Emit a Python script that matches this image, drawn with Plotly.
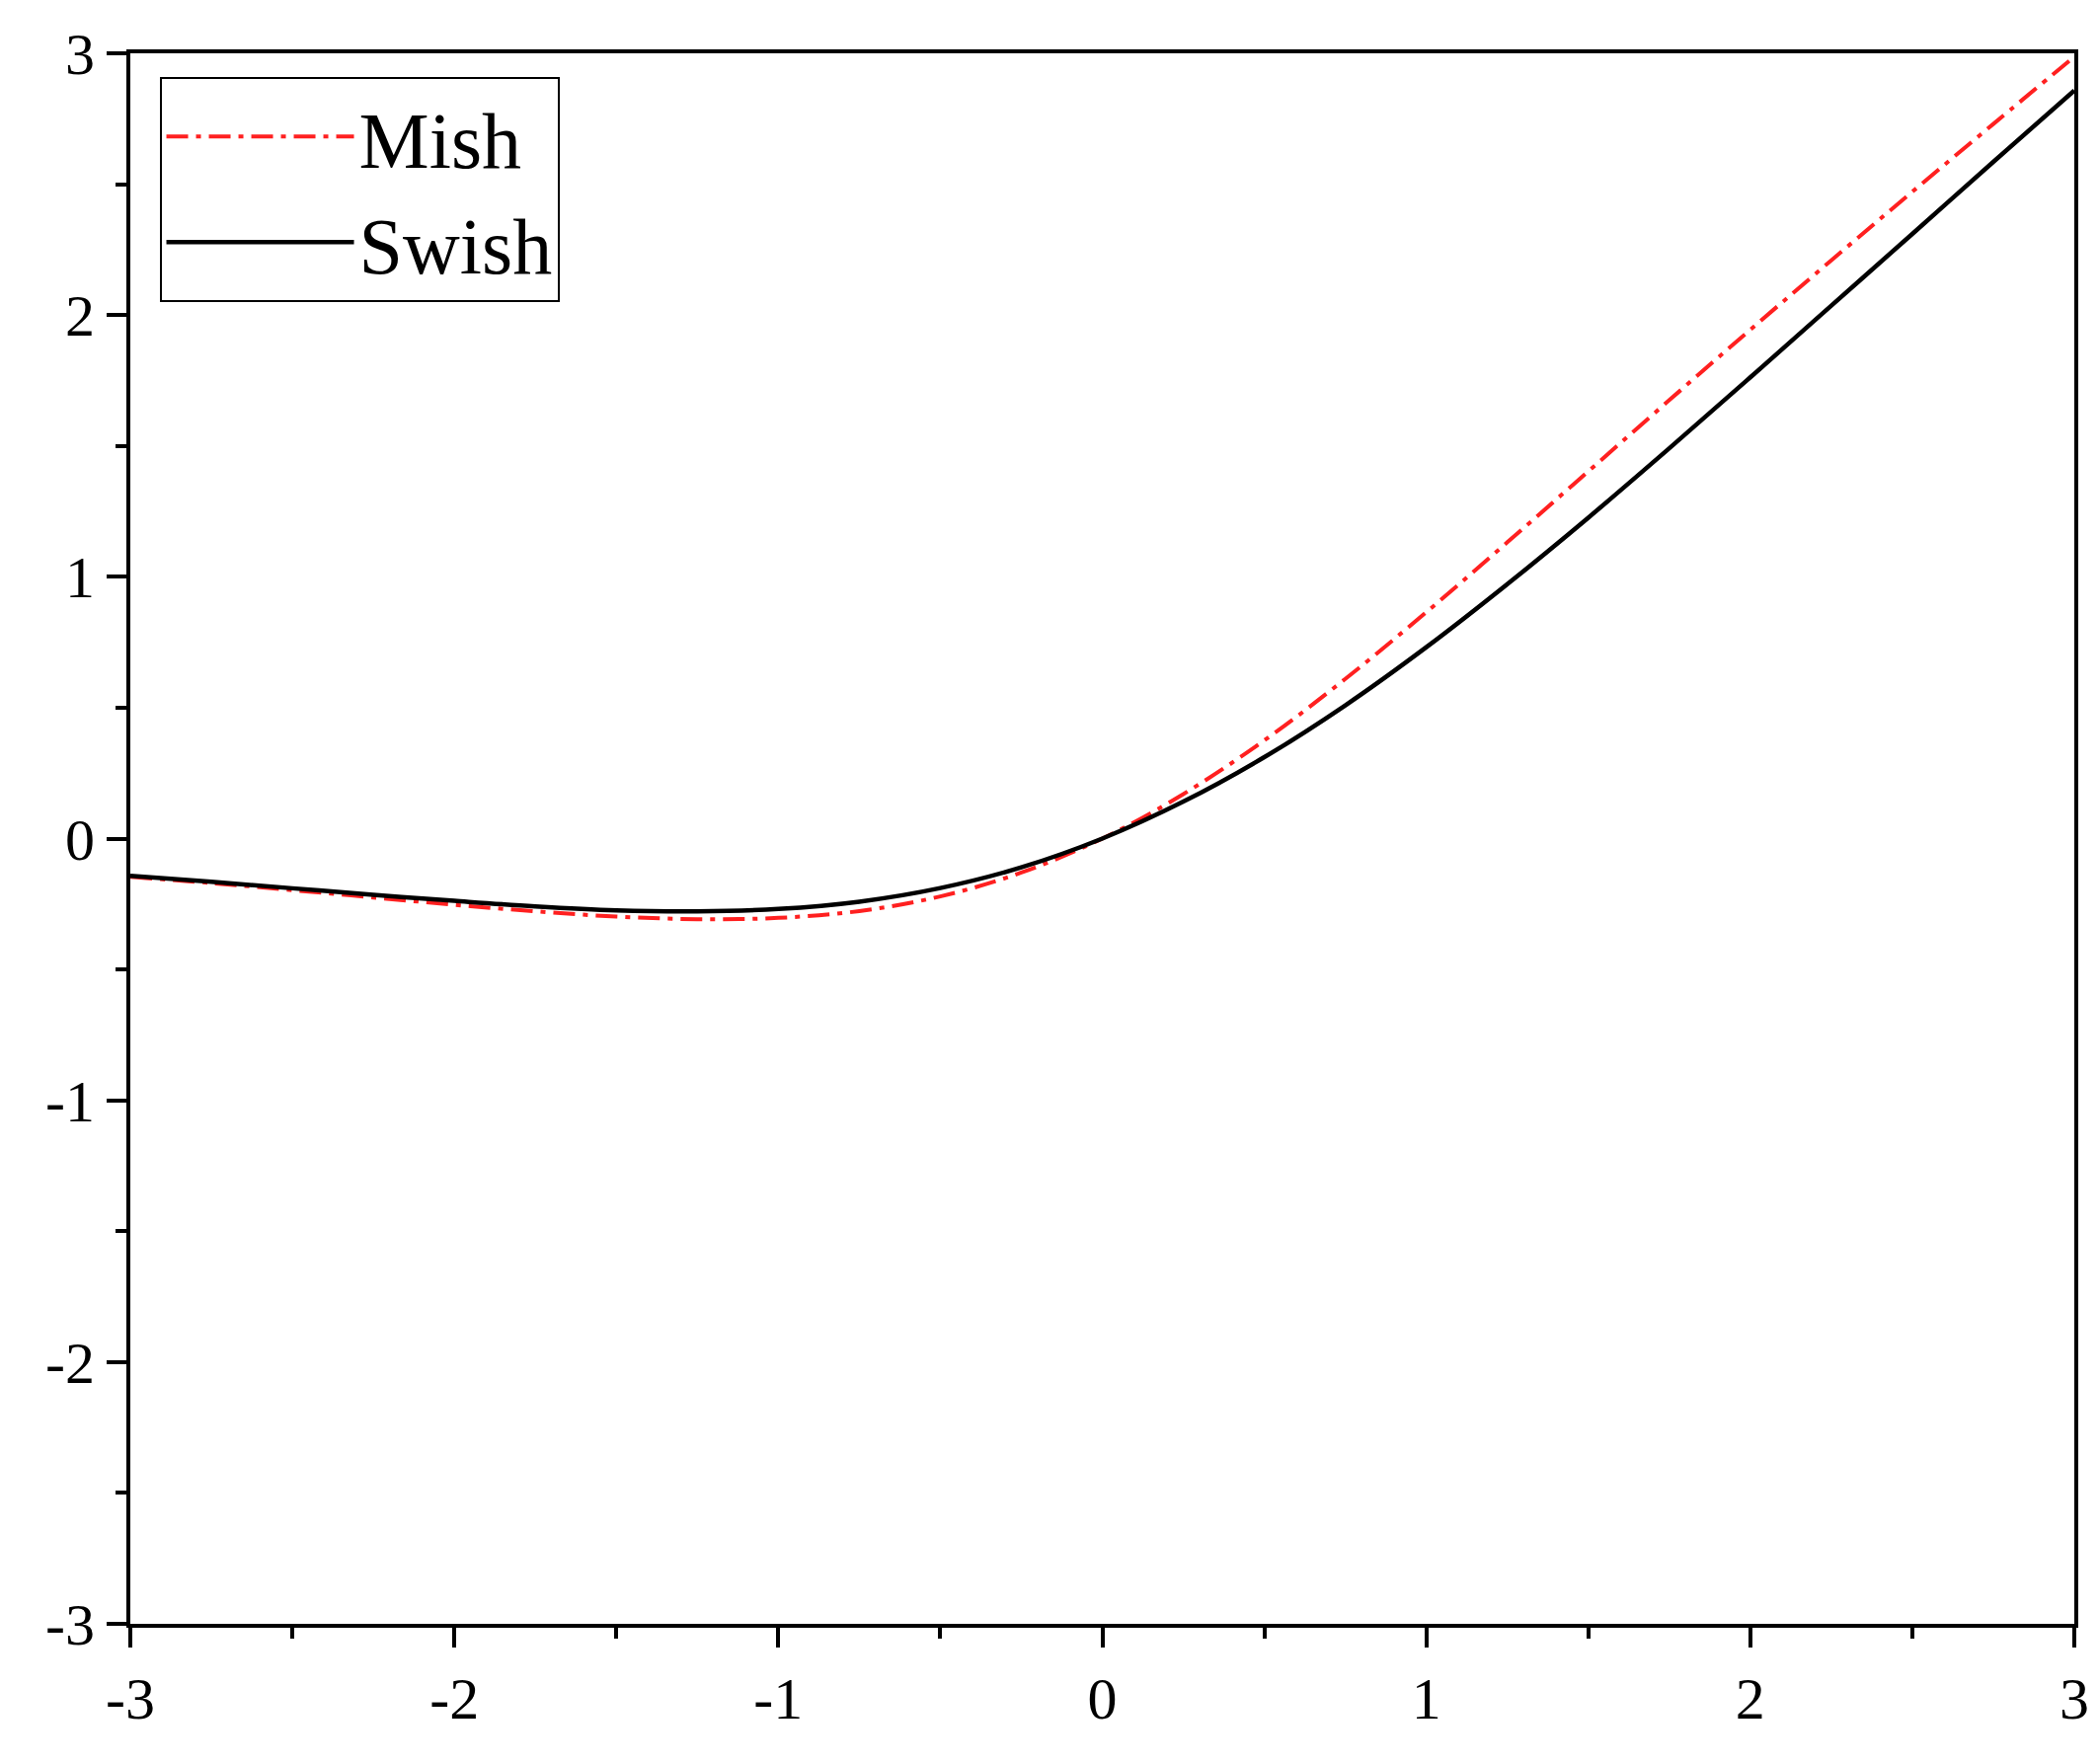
import plotly.graph_objects as go

x_vals = [-3, -2.75, -2.5, -2.25, -2, -1.75, -1.5, -1.25, -1, -0.75, -0.5, -0.25, 0,
          0.25, 0.5, 0.75, 1, 1.25, 1.5, 1.75, 2, 2.25, 2.5, 2.75, 3]
mish = [-0.146, -0.170, -0.197, -0.225, -0.253, -0.278, -0.298, -0.308, -0.303, -0.277,
        -0.221, -0.130, 0.0, 0.170, 0.375, 0.610, 0.865, 1.132, 1.403, 1.675, 1.944,
        2.209, 2.471, 2.730, 2.987]
swish = [-0.142, -0.165, -0.190, -0.215, -0.238, -0.259, -0.274, -0.278, -0.269, -0.241,
         -0.189, -0.110, 0.0, 0.141, 0.311, 0.509, 0.731, 0.972, 1.226, 1.491, 1.762,
         2.036, 2.310, 2.585, 2.858]
tick_vals = [-3, -2, -1, 0, 1, 2, 3]
tick_text = ["-3", "-2", "-1", "0", "1", "2", "3"]

fig = go.Figure()
fig.add_trace(go.Scatter(x=x_vals, y=mish, mode="lines", name="Mish",
                         line=dict(color="#ff2020", width=4, dash="22px,8px,5px,8px", shape="spline")))
fig.add_trace(go.Scatter(x=x_vals, y=swish, mode="lines", name="Swish",
                         line=dict(color="black", width=4.5, shape="spline")))

axis_common = dict(range=[-3, 3], tickvals=tick_vals, ticktext=tick_text,
                   ticks="outside", ticklen=20, tickwidth=4, tickcolor="black",
                   showline=True, linewidth=4, linecolor="black", mirror=True,
                   showgrid=False, zeroline=False,
                   minor=dict(dtick=0.5, ticks="outside", ticklen=11, tickwidth=4, tickcolor="black"),
                   tickfont=dict(family="Liberation Serif", size=60, color="black"))
fig.update_xaxes(**axis_common)
fig.update_yaxes(**axis_common)
fig.update_layout(
    width=2125, height=1787, plot_bgcolor="white", paper_bgcolor="white",
    margin=dict(l=124, r=32, t=46, b=150),
    legend=dict(x=0.015, y=0.985, xanchor="left", yanchor="top",
                bordercolor="black", borderwidth=2, bgcolor="white",
                font=dict(family="Liberation Serif", size=80, color="black"),
                itemwidth=190, tracegroupgap=0),
)
fig.write_html("out.html")
